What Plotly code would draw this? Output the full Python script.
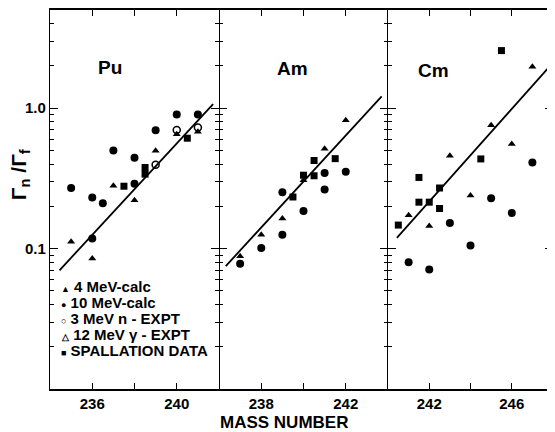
import plotly.graph_objects as go

# ---------------- data ----------------
# Pu panel
pu_4mev_x = [235, 236, 237, 238, 239, 240, 241]
pu_4mev_y = [0.112, 0.085, 0.28, 0.221, 0.498, 0.652, 0.678]
pu_10mev_x = [235, 236, 236, 236.5, 237, 238, 238, 239, 240, 241]
pu_10mev_y = [0.27, 0.118, 0.231, 0.21, 0.50, 0.444, 0.29, 0.697, 0.90, 0.90]
pu_3mev_x = [239, 240, 241]
pu_3mev_y = [0.395, 0.70, 0.727]
pu_spall_x = [237.5, 238.5, 238.5, 240.5]
pu_spall_y = [0.278, 0.378, 0.339, 0.611]
pu_fit_x = [234.45, 241.72]
pu_fit_y = [0.070, 1.07]

# Am panel
am_4mev_x = [237, 238, 239, 240, 241, 242]
am_4mev_y = [0.088, 0.1255, 0.164, 0.306, 0.514, 0.819]
am_10mev_x = [237, 238, 239, 239, 240, 241, 241, 242]
am_10mev_y = [0.078, 0.101, 0.1255, 0.252, 0.185, 0.345, 0.263, 0.352]
am_spall_x = [239.5, 240, 240.5, 240.5, 241.5]
am_spall_y = [0.233, 0.333, 0.424, 0.330, 0.437]
am_fit_x = [236.32, 243.70]
am_fit_y = [0.075, 1.215]

# Cm panel
cm_4mev_x = [241, 242, 243, 244, 245, 246, 247]
cm_4mev_y = [0.173, 0.145, 0.459, 0.239, 0.755, 0.555, 1.97]
cm_10mev_x = [241, 242, 243, 244, 245, 246, 247]
cm_10mev_y = [0.080, 0.0711, 0.152, 0.105, 0.228, 0.179, 0.41]
cm_spall_x = [240.5, 241.5, 241.5, 242, 242.5, 242.5, 244.5, 245.5]
cm_spall_y = [0.147, 0.321, 0.214, 0.214, 0.270, 0.193, 0.435, 2.57]
cm_fit_x = [240.43, 247.78]
cm_fit_y = [0.119, 1.94]

panel_names = ["Pu", "Am", "Cm"]
panel_ranges = [[234, 242], [236, 244], [240, 248]]
panel_label_ticks = [[236, 240], [238, 242], [242, 246]]
panel_minor_ticks = [[238], [240], [244]]

y_major_vals = [0.1, 1.0]
y_major_text = ["0.1", "1.0"]
y_minor_vals = [0.02, 0.03, 0.04, 0.05, 0.06, 0.07, 0.08, 0.09,
                0.2, 0.3, 0.4, 0.5, 0.6, 0.7, 0.8, 0.9, 2, 3, 4]

legend_labels = ["4 MeV-calc", "10 MeV-calc", "3 MeV n - EXPT",
                 "12 MeV \u03b3 - EXPT", "SPALLATION DATA"]
legend_symbols = ["\u25b2", "\u25cf", "\u25cb", "\u25b3", "\u25a0"]

# ---------------- figure ----------------
FONT = "Liberation Sans"
fig = go.Figure()

panels = [
    (pu_4mev_x, pu_4mev_y, pu_10mev_x, pu_10mev_y, pu_3mev_x, pu_3mev_y,
     pu_spall_x, pu_spall_y, pu_fit_x, pu_fit_y),
    (am_4mev_x, am_4mev_y, am_10mev_x, am_10mev_y, [], [],
     am_spall_x, am_spall_y, am_fit_x, am_fit_y),
    (cm_4mev_x, cm_4mev_y, cm_10mev_x, cm_10mev_y, [], [],
     cm_spall_x, cm_spall_y, cm_fit_x, cm_fit_y),
]

for i, p in enumerate(panels):
    xa = "x" if i == 0 else f"x{i+1}"
    ya = "y" if i == 0 else f"y{i+1}"
    t4x, t4y, t10x, t10y, o3x, o3y, sx, sy, fx, fy = p
    fig.add_trace(go.Scatter(x=fx, y=fy, mode="lines", xaxis=xa, yaxis=ya,
                             line=dict(color="black", width=1.8), showlegend=False))
    fig.add_trace(go.Scatter(x=t4x, y=t4y, mode="markers", xaxis=xa, yaxis=ya,
                             marker=dict(symbol="triangle-up", size=7, color="black"),
                             name="4 MeV-calc", showlegend=False))
    fig.add_trace(go.Scatter(x=t10x, y=t10y, mode="markers", xaxis=xa, yaxis=ya,
                             marker=dict(symbol="circle", size=8, color="black"),
                             name="10 MeV-calc", showlegend=False))
    if o3x:
        fig.add_trace(go.Scatter(x=o3x, y=o3y, mode="markers", xaxis=xa, yaxis=ya,
                                 marker=dict(symbol="circle-open", size=7, color="black",
                                             line=dict(width=1.5)),
                                 name="3 MeV n - EXPT", showlegend=False))
    fig.add_trace(go.Scatter(x=sx, y=sy, mode="markers", xaxis=xa, yaxis=ya,
                             marker=dict(symbol="square", size=7, color="black"),
                             name="SPALLATION DATA", showlegend=False))

# page body has an 8px margin: figure occupies 8..555 x 8..432
W = 503.0   # plot area width (window x 50..553)
H = 381.0   # plot area height (window y 8..389)
doms = [[0, 169 / W], [169 / W, 338 / W], [338 / W, 1]]
for i in range(3):
    xkey = "xaxis" if i == 0 else f"xaxis{i+1}"
    ykey = "yaxis" if i == 0 else f"yaxis{i+1}"
    fig.layout[xkey] = dict(domain=doms[i], range=panel_ranges[i],
                            anchor="y" if i == 0 else f"y{i+1}",
                            showline=True, linecolor="black", linewidth=1.5, mirror="ticks",
                            ticks="inside", tickcolor="black", showgrid=False, zeroline=False,
                            tickvals=panel_label_ticks[i],
                            ticktext=[str(v) for v in panel_label_ticks[i]],
                            ticklen=6, tickwidth=1.3,
                            minor=dict(ticks="inside", ticklen=6, tickwidth=1.3,
                                       tickcolor="black", tickvals=panel_minor_ticks[i]),
                            tickfont=dict(family=FONT, size=15, color="black", weight="bold"))
    fig.layout[ykey] = dict(type="log", range=[-2, 0.699], domain=[0, 1],
                            anchor="x" if i == 0 else f"x{i+1}",
                            showline=(i != 1), linecolor="black", linewidth=1.2,
                            mirror="ticks", ticks="inside", tickcolor="black",
                            showgrid=False, zeroline=False,
                            tickvals=y_major_vals, ticktext=y_major_text,
                            showticklabels=(i == 0), ticklen=8, tickwidth=1.2,
                            tickfont=dict(family=FONT, size=15, color="black", weight="bold"),
                            minor=dict(ticks="inside", ticklen=4, tickwidth=1.0,
                                       tickcolor="black", tickvals=y_minor_vals))

def px(x):
    return (x - 50) / W

def py(y):
    return (389 - y) / H

annotations = []
panel_label_pos = [(110, 66), (292, 67), (433, 69)]
for name, (ax, ay) in zip(panel_names, panel_label_pos):
    annotations.append(dict(text=name, x=px(ax), y=py(ay), xanchor="center", yanchor="middle",
                            xref="paper", yref="paper", showarrow=False,
                            font=dict(family=FONT, size=19, color="black", weight="bold")))

for k, (sym, lab) in enumerate(zip(legend_symbols, legend_labels)):
    annotations.append(dict(
        text=f"<span style='font-size:9px'>{sym}</span> {lab}",
        x=px(59), y=py(286 + k * 16.0),
        xref="paper", yref="paper", xanchor="left", yanchor="middle", showarrow=False,
        font=dict(family=FONT, size=15, color="black", weight="bold")))

annotations.append(dict(text="MASS NUMBER", x=px(284), y=py(423),
                        xanchor="center", yanchor="middle",
                        xref="paper", yref="paper", showarrow=False,
                        font=dict(family=FONT, size=17, color="black", weight="bold")))
annotations.append(dict(text="\u0393<sub>n</sub> /\u0393<sub>f</sub>",
                        x=px(20), y=py(174), textangle=-90,
                        xanchor="center", yanchor="middle",
                        xref="paper", yref="paper", showarrow=False,
                        font=dict(family=FONT, size=21, color="black", weight="bold")))

fig.update_layout(width=547, height=424, margin=dict(l=42, r=2, t=0, b=43),
                  paper_bgcolor="white", plot_bgcolor="white",
                  annotations=annotations, showlegend=False)

fig.write_html("out.html")
